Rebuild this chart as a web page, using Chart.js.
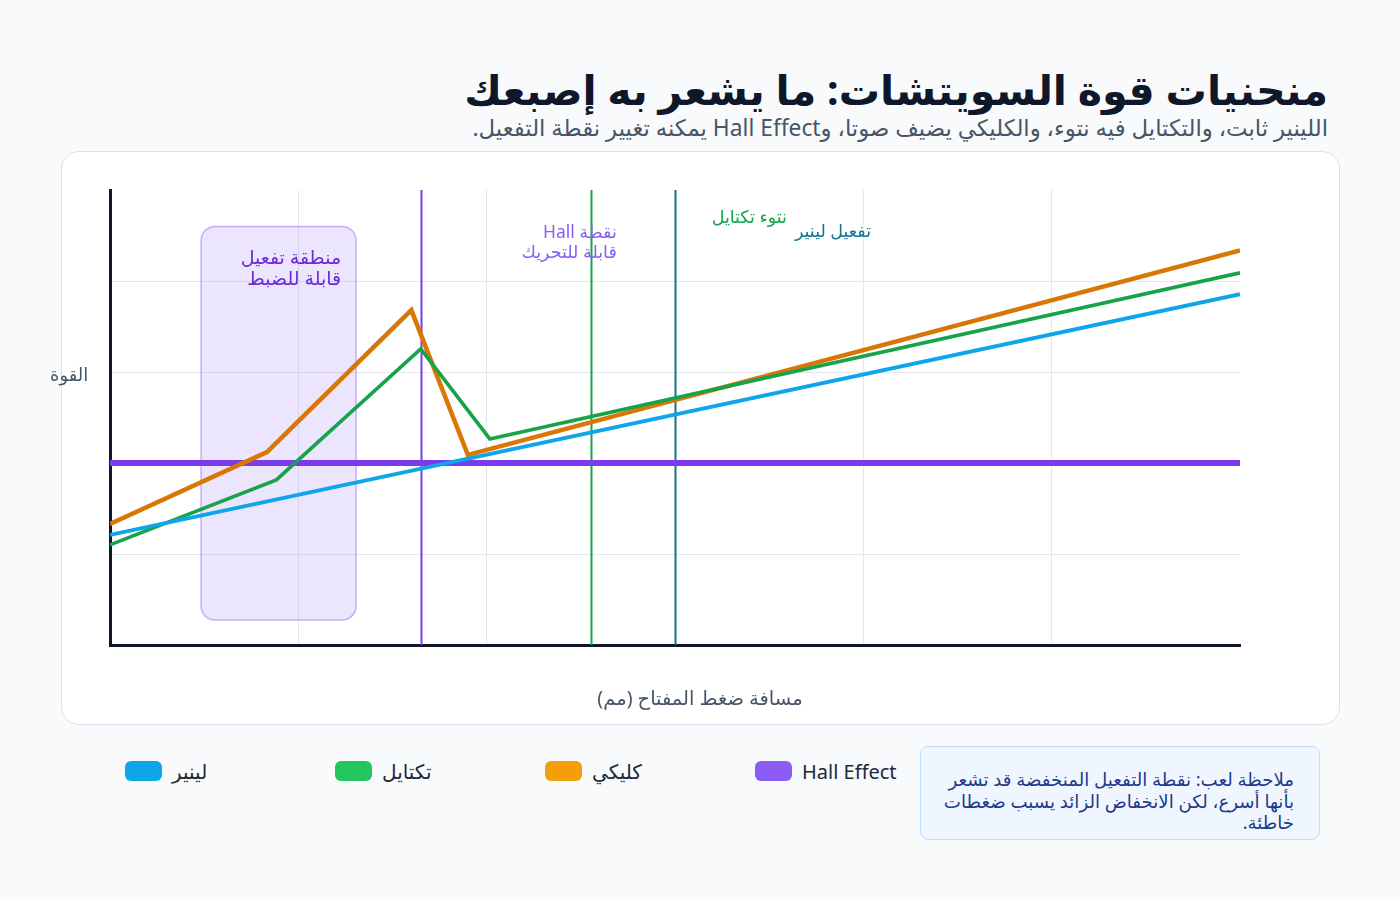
<!DOCTYPE html>
<html lang="ar">
<head>
<meta charset="utf-8">
<script src="https://cdn.jsdelivr.net/npm/chart.js@4.4.1/dist/chart.umd.min.js"></script>
<style>
  html, body { margin: 0; padding: 0; background: #f8fafc; }
  body { width: 1400px; height: 900px; position: relative; overflow: hidden; font-family: "Noto Sans", "DejaVu Sans", sans-serif; }
  .title { position: absolute; right: 72px; top: 61px; font-size: 41.2px; font-weight: 700; color: #0f172a; direction: rtl; white-space: nowrap; line-height: 56px; }
  .subtitle { position: absolute; right: 72px; top: 113px; font-size: 22.8px; color: #475569; direction: rtl; white-space: nowrap; line-height: 30px; }
  .card { position: absolute; left: 61px; top: 151px; width: 1277px; height: 572px; background: #fff; border: 1px solid #dbe1ea; border-radius: 18px; }
  .card canvas { position: absolute; left: 0; top: 0; }
  .ytitle { position: absolute; left: 50px; top: 360px; font-size: 18px; line-height: 28px; color: #475569; direction: rtl; white-space: nowrap; }
  .xtitle { position: absolute; left: 0; width: 1400px; top: 684px; text-align: center; font-size: 19.5px; line-height: 28px; color: #475569; direction: rtl; white-space: nowrap; }
  .legend { position: absolute; left: 125px; top: 757px; display: flex; }
  .legend .item { display: flex; align-items: center; width: 210px; height: 28px; }
  .legend .sw { width: 37px; height: 20px; border-radius: 6px; margin-right: 10px; flex: none; }
  .legend .lbl { font-size: 20px; color: #1e293b; white-space: nowrap; }
  .note { position: absolute; left: 920px; top: 746px; width: 398px; height: 92px; background: #eff6ff; border: 1px solid #bfdbfe; border-radius: 8px; }
  .note p { margin: 0; position: absolute; right: 25px; top: 22px; width: 370px; text-align: right; direction: rtl; font-size: 18.2px; line-height: 21.5px; color: #1e3a8a; white-space: nowrap; }
</style>
</head>
<body>
<div class="title">منحنيات قوة السويتشات: ما يشعر به إصبعك</div>
<div class="subtitle">اللينير ثابت، والتكتايل فيه نتوء، والكليكي يضيف صوتا، وHall Effect يمكنه تغيير نقطة التفعيل.</div>
<div class="card"><canvas id="c" width="1277" height="572"></canvas></div>
<div class="ytitle">القوة</div>
<div class="xtitle">مسافة ضغط المفتاح (مم)</div>
<div class="legend" id="legend"></div>
<div class="note"><p>ملاحظة لعب: نقطة التفعيل المنخفضة قد تشعر<br>بأنها أسرع، لكن الانخفاض الزائد يسبب ضغطات<br>خاطئة.</p></div>
<script>
// ---- data ----
const seriesNames = ["لينير", "تكتايل", "كليكي", "Hall Effect"];
const lineColors = ["#0ea5e9", "#16a34a", "#d97706", "#7c3aed"];
const legendColors = ["#0ea5e9", "#22c55e", "#f59e0b", "#8b5cf6"];
const lineWidths = [3.8, 3.6, 4.5, 6];

const linearX = [0, 3.6];
const linearY = [24.2, 77.1];
const tactileX = [0, 0.53, 0.99, 1.21, 3.6];
const tactileY = [22.0, 36.3, 65.1, 45.3, 81.8];
const clickyX = [0, 0.5, 0.96, 1.14, 3.6];
const clickyY = [26.6, 42.4, 73.6, 41.8, 86.7];
const hallX = [0, 3.6];
const hallY = [40, 40];

const xMin = 0, xMax = 3.6, xStep = 0.6;
const yMin = 0, yMax = 100, yStep = 20;

// annotations
const zoneX = [0.29, 0.784];
const zoneY = [5.5, 92];
const zoneLabel = ["منطقة تفعيل", "قابلة للضبط"];
const markerX = [0.99, 1.532, 1.8];
const markerColors = ["#7c3aed", "#16a34a", "#0e7490"];
const markerLabels = [["نقطة Hall", "قابلة للتحريك"], ["نتوء تكتايل"], ["تفعيل لينير"]];
const markerLabelColors = ["#8b5cf6", "#16a34a", "#0e7490"];
const markerLabelTop = [233, 218, 232];

function pts(xs, ys) { return xs.map((x, i) => ({ x: x, y: ys[i] })); }
const seriesData = [pts(linearX, linearY), pts(tactileX, tactileY), pts(clickyX, clickyY), pts(hallX, hallY)];

const FONT = '"Noto Sans", "DejaVu Sans", sans-serif';

const annot = {
  id: 'annot',
  beforeDatasetsDraw(chart) {
    const { ctx, scales: { x, y } } = chart;
    const x0 = x.getPixelForValue(zoneX[0]), x1 = x.getPixelForValue(zoneX[1]);
    const y0 = y.getPixelForValue(zoneY[1]), y1 = y.getPixelForValue(zoneY[0]);
    ctx.save();
    ctx.beginPath();
    ctx.roundRect(x0, y0, x1 - x0, y1 - y0, 14);
    ctx.fillStyle = 'rgba(139, 92, 246, 0.16)';
    ctx.fill();
    ctx.lineWidth = 1.5;
    ctx.strokeStyle = 'rgba(139, 92, 246, 0.45)';
    ctx.stroke();
    ctx.fillStyle = '#6d28d9';
    ctx.font = '19px ' + FONT;
    ctx.textAlign = 'right';
    ctx.textBaseline = 'middle';
    ctx.direction = 'rtl';
    zoneLabel.forEach((t, i) => ctx.fillText(t, x1 - 15, y0 + 32 + i * 21));
    markerX.forEach((mx, i) => {
      const px = Math.round(x.getPixelForValue(mx)) + 0.5;
      ctx.beginPath();
      ctx.moveTo(px, chart.chartArea.top);
      ctx.lineTo(px, chart.chartArea.bottom);
      ctx.lineWidth = 2;
      ctx.strokeStyle = markerColors[i];
      ctx.stroke();
    });
    ctx.restore();
  },
  afterDatasetsDraw(chart) {
    const { ctx, scales: { x } } = chart;
    ctx.save();
    ctx.font = '17.5px ' + FONT;
    ctx.textAlign = 'right';
    ctx.textBaseline = 'middle';
    ctx.direction = 'rtl';
    markerX.forEach((mx, i) => {
      const px = x.getPixelForValue(mx);
      ctx.fillStyle = markerLabelColors[i];
      markerLabels[i].forEach((t, j) => ctx.fillText(t, px + 196, markerLabelTop[i] - 152 + j * 20));
    });
    ctx.restore();
  }
};

const gridColor = (max) => (c) => (c.tick && Math.abs(c.tick.value - max) < 1e-6) ? 'rgba(0,0,0,0)' : '#e5e7eb';

const chart = new Chart(document.getElementById('c'), {
  type: 'line',
  data: {
    datasets: seriesNames.map((n, i) => ({
      label: n,
      data: seriesData[i],
      borderColor: lineColors[i],
      backgroundColor: legendColors[i],
      borderWidth: lineWidths[i],
      pointRadius: 0,
      tension: 0,
      fill: false
    }))
  },
  options: {
    responsive: false,
    animation: false,
    devicePixelRatio: 1,
    layout: { padding: { left: 48, top: 38, right: 99, bottom: 79 } },
    plugins: { legend: { display: false }, tooltip: { enabled: false } },
    scales: {
      x: {
        type: 'linear', min: xMin, max: xMax,
        ticks: { display: false, stepSize: xStep },
        grid: { color: gridColor(xMax), drawTicks: false, lineWidth: 1 },
        border: { color: '#0f172a', width: 3 }
      },
      y: {
        type: 'linear', min: yMin, max: yMax,
        ticks: { display: false, stepSize: yStep },
        grid: { color: gridColor(yMax), drawTicks: false, lineWidth: 1 },
        border: { color: '#0f172a', width: 3 }
      }
    }
  },
  plugins: [annot]
});

const leg = document.getElementById('legend');
chart.data.datasets.forEach((ds) => {
  const it = document.createElement('div');
  it.className = 'item';
  it.innerHTML = '<span class="sw" style="background:' + ds.backgroundColor + '"></span><span class="lbl">' + ds.label + '</span>';
  leg.appendChild(it);
});
</script>
</body>
</html>
